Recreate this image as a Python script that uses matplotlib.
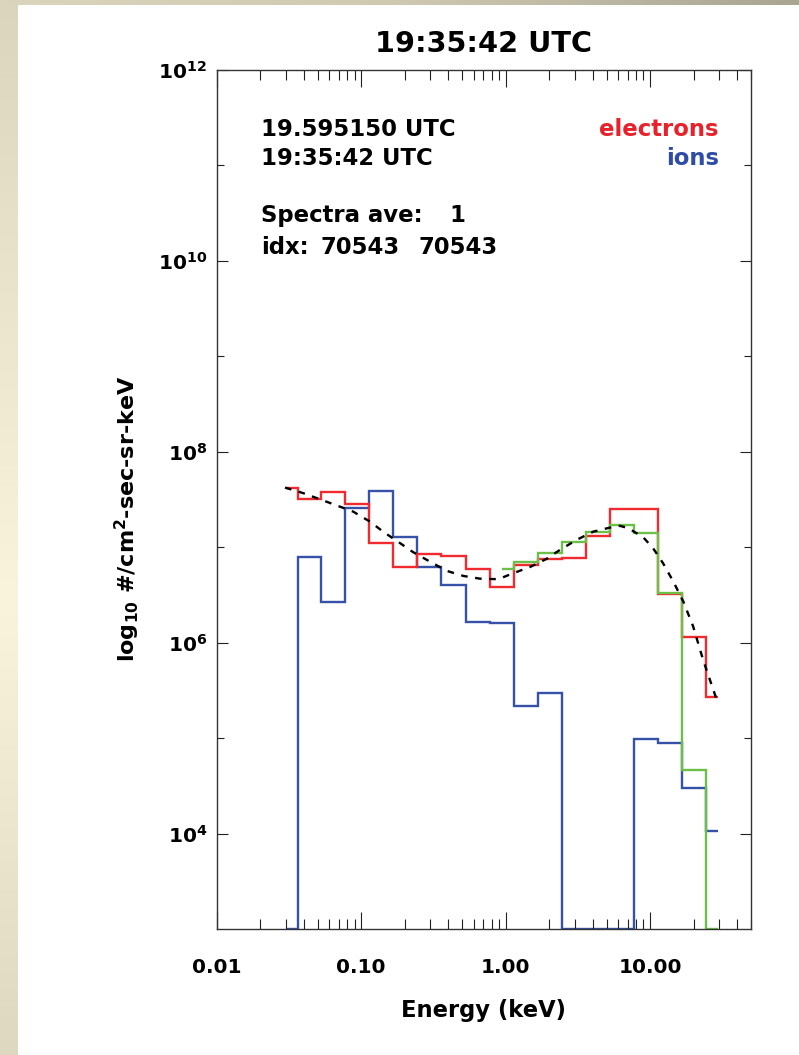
import matplotlib
matplotlib.use("Agg")
import matplotlib.pyplot as plt
import numpy as np
from matplotlib.colors import to_rgb
from matplotlib.ticker import (FixedLocator, FixedFormatter, FuncFormatter,
                               LogLocator, NullFormatter)

W, H = 799, 1055

# channel centre energies (keV)
energy = [0.030, 0.044, 0.064, 0.094, 0.138, 0.202, 0.297, 0.436, 0.640,
          0.940, 1.38, 2.02, 2.97, 4.36, 6.40, 9.40, 13.8, 20.2, 29.7]

# differential flux, #/cm2-sec-sr-keV (0 = empty channel)
electrons = [4.14e7, 3.20e7, 3.76e7, 2.83e7, 1.10e7, 6.17e6, 8.43e6, 8.15e6,
             5.91e6, 3.80e6, 6.51e6, 7.47e6, 7.65e6, 1.32e7, 2.49e7, 2.49e7,
             3.21e6, 1.14e6, 2.68e5]
ions = [0, 7.96e6, 2.69e6, 2.59e7, 3.91e7, 1.27e7, 6.25e6, 4.02e6, 1.64e6,
        1.60e6, 2.17e5, 2.99e5, 0, 0, 0, 9.74e4, 8.85e4, 2.99e4, 1.05e4]
# high-energy electron head, starts at channel 9
HI_START = 9
electrons_hi = [5.91e6, 7.05e6, 8.75e6, 1.12e7, 1.45e7, 1.71e7, 1.40e7,
                3.34e6, 4.65e4, 0]

# model fit to the electron spectrum
fit_energy = [0.0297, 0.0398, 0.0533, 0.0714, 0.0882, 0.115, 0.142, 0.186,
              0.229, 0.299, 0.391, 0.509, 0.664, 0.889, 1.13, 1.47, 1.92,
              2.38, 3.10, 4.04, 5.27, 6.18, 7.05, 8.96, 10.5, 12.3, 14.5,
              17.0, 19.9, 23.3, 29.6]
fit_flux = [4.20e7, 3.67e7, 3.12e7, 2.65e7, 2.35e7, 1.85e7, 1.45e7, 1.10e7,
            8.85e6, 7.05e6, 5.64e6, 4.99e6, 4.67e6, 4.61e6, 5.33e6, 6.17e6,
            7.52e6, 9.35e6, 1.19e7, 1.45e7, 1.60e7, 1.67e7, 1.58e7, 1.27e7,
            9.73e6, 6.78e6, 4.35e6, 2.69e6, 1.47e6, 6.59e5, 2.28e5]

YMIN, YMAX = 1e3, 1e12
XMIN, XMAX = 0.01, 50.0

RED = "#F02A2E"
BLUE = "#3551A8"
GREEN = "#6CC04A"

plt.rcParams["font.family"] = "DejaVu Sans"
plt.rcParams["font.weight"] = "bold"
plt.rcParams["axes.labelweight"] = "bold"
plt.rcParams["axes.titleweight"] = "bold"
plt.rcParams["mathtext.default"] = "bf"


def px(x, y):
    return x / W, 1 - y / H


def log_edges(c):
    # histogram edges halfway (in log) between channel centres
    c = np.asarray(c, dtype=float)
    mid = np.sqrt(c[:-1] * c[1:])
    return np.concatenate([[c[0]], mid, [c[-1]]])


def gradient(stops, n=256):
    pos = [p for p, _ in stops]
    cols = np.array([to_rgb(c) for _, c in stops])
    t = np.linspace(0, 1, n)
    return np.stack([np.interp(t, pos, cols[:, i]) for i in range(3)], axis=-1)


fig = plt.figure(figsize=(W / 100, H / 100), dpi=100, facecolor="white")

# page border strips
bg = fig.add_axes([0, 0, 1, 1], zorder=-5)
bg.set_xlim(0, W)
bg.set_ylim(H, 0)
bg.axis("off")
left = gradient([(0, "#DCD5BD"), (0.57, "#FBF4DD"), (1, "#DFD8C0")])
bg.imshow(left[:, None, :], extent=(0, 18, H, 0), aspect="auto")
top = gradient([(0, "#DCD5BD"), (0.5, "#CFC9B2"), (1, "#A9A592")])
bg.imshow(top[None, :, :], extent=(0, W, 5, 0), aspect="auto")

ax = fig.add_axes([216.7 / W, 1 - 929 / H, (751 - 216.7) / W, (929 - 69.7) / H])
ax.set_xscale("log")
ax.set_yscale("log")
ax.set_xlim(XMIN, XMAX)
ax.set_ylim(YMIN, YMAX)

e_all = log_edges(energy)
ax.stairs(np.maximum(ions, YMIN), e_all, baseline=None, color=BLUE, lw=1.7)
ax.stairs(np.maximum(electrons, YMIN), e_all, baseline=None, color=RED, lw=1.7)
ax.stairs(np.maximum(electrons_hi, YMIN), log_edges(energy[HI_START:]),
          baseline=None, color=GREEN, lw=1.7)
ax.plot(fit_energy, fit_flux, color="black", lw=1.7, dashes=(2.8, 3.2))

ax.xaxis.set_major_locator(FixedLocator([0.01, 0.1, 1, 10]))
ax.xaxis.set_major_formatter(FixedFormatter(["0.01", "0.10", "1.00", "10.00"]))
ax.xaxis.set_minor_locator(LogLocator(base=10, subs=np.arange(2, 10), numticks=20))
ax.xaxis.set_minor_formatter(NullFormatter())
ax.yaxis.set_major_locator(FixedLocator([1e4, 1e6, 1e8, 1e10, 1e12]))
ax.yaxis.set_major_formatter(
    FuncFormatter(lambda v, p: "$10^{%d}$" % round(np.log10(v))))
ax.yaxis.set_minor_locator(FixedLocator([1e5, 1e7, 1e9, 1e11]))
ax.yaxis.set_minor_formatter(NullFormatter())

ax.tick_params(which="both", direction="in", top=True, right=True,
               color="#222222", width=0.8, labelsize=14.5)
ax.tick_params(axis="x", which="major", length=12, pad=21)
ax.tick_params(axis="x", which="minor", length=7)
ax.tick_params(axis="y", which="major", length=8, pad=7)
ax.tick_params(axis="y", which="minor", length=5)
for s in ax.spines.values():
    s.set_linewidth(1.0)
    s.set_color("#333333")

ax.set_title("19:35:42 UTC", fontsize=20.7, fontweight="bold", pad=12.7)
ax.set_xlabel("Energy (keV)", fontsize=16.3, fontweight="bold", va="center")
ax.xaxis.set_label_coords(0.5, (929 - 1011) / (929 - 69.7))
ax.set_ylabel("log$_{10}$ #/cm$^2$-sec-sr-keV", fontsize=16,
              fontweight="bold", va="center")
ax.yaxis.set_label_coords((127 - 216.7) / (751 - 216.7),
                          1 - (519 - 69.7) / (929 - 69.7))

# time / averaging info
fs = 16.4
fig.text(*px(261, 136), "19.595150 UTC", fontsize=fs)
fig.text(*px(261, 165), "19:35:42 UTC", fontsize=fs)
fig.text(*px(261, 222), "Spectra ave:", fontsize=fs)
fig.text(*px(465, 222), "1", fontsize=fs, ha="right")
fig.text(*px(261, 254), "idx:", fontsize=fs)
fig.text(*px(321, 254), "70543", fontsize=fs)
fig.text(*px(418, 254), "70543", fontsize=fs)
fig.text(*px(719, 136), "electrons", fontsize=fs, ha="right", color="#E8222B")
fig.text(*px(719, 165), "ions", fontsize=fs, ha="right", color="#2E4DA6")

fig.savefig("out.png", dpi=100)
